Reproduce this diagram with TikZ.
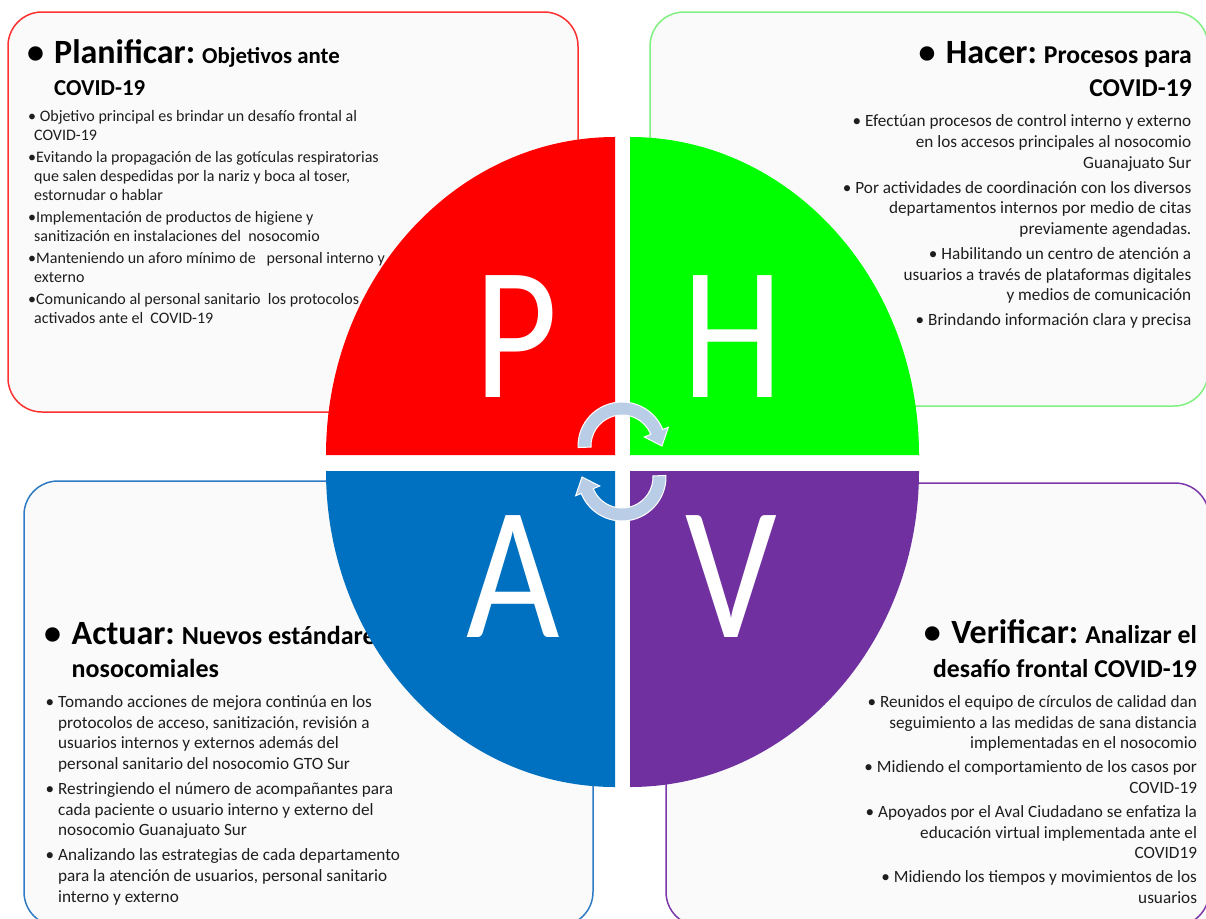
\documentclass[tikz,border=0pt]{standalone}
\usepackage{graphicx}
\usepackage{fontspec}
\setmainfont{Carlito}
\definecolor{cRed}{HTML}{FF0000}
\definecolor{cGreen}{HTML}{00FF00}
\definecolor{cBlue}{HTML}{0070C0}
\definecolor{cPurple}{HTML}{7030A0}
\definecolor{bRed}{HTML}{FF3030}
\definecolor{bGreen}{HTML}{80F080}
\definecolor{bBlue}{HTML}{2E7BC4}
\definecolor{bPurple}{HTML}{7A38AA}
\definecolor{boxfill}{HTML}{FAFAFA}
\definecolor{arrowfill}{HTML}{B9CDE6}
\definecolor{txt}{HTML}{1E1E1E}
\newcommand\LeftLines[1]{\vtop{\halign{##\hfil\cr#1\crcr}}}
\newcommand\RightLines[1]{\vtop{\halign{\hfil##\cr#1\crcr}}}
\newcommand\gap[1]{\noalign{\vskip#1pt}}
\newcommand\ind{\phantom{•\ }}
\newcommand\headbig{\fontsize{34}{40}\selectfont\bfseries}
\newcommand\headsub[1]{\fontsize{#1}{#1}\selectfont\bfseries}
\newcommand\bigletter[1]{\scalebox{0.85}[1]{#1}}
\begin{document}
\begin{tikzpicture}[x=1pt,y=-1pt,
  panel/.style={line width=1.5pt, fill=boxfill, rounded corners=34pt},
  bodyA/.style={font=\fontsize{16}{19}\selectfont, text=txt, inner sep=0pt},
  bodyB/.style={font=\fontsize{17.2}{20.7}\selectfont, text=txt, inner sep=0pt},
  head/.style={text=black, inner sep=0pt},
  letter/.style={font=\fontsize{190}{190}\selectfont, text=white, inner sep=0pt, anchor=base},
  cyc/.style={fill=arrowfill, draw=white, line width=1pt}]
\useasboundingbox (0,0) rectangle (1206,918);
\fill[white] (0,0) rectangle (1206,918);

% ---------- panels ----------
\draw[panel, draw=bRed] (8,12) rectangle (578,412);
\draw[panel, draw=bGreen] (650,12) rectangle (1208,406);
\draw[panel, draw=bBlue] (24,481) rectangle (593,926);
\draw[panel, draw=bPurple] (666,483) rectangle (1209,926);

% ---------- Planificar ----------
\node[head, anchor=base west] (pbul) at (27,63) {\headbig •};
\node[head, anchor=base west] (ptitle) at (54,63) {{\headbig Planificar:}\hspace{4pt} {\headsub{22.8}Objetivos ante}};
\node[head, anchor=base west] (ptitle2) at (54,95) {\headsub{22.8}COVID-19};
\node[bodyA, anchor=base west] (pbody) at (28,121.7) {\LeftLines{%
• Objetivo principal es brindar un desafío frontal al\cr
\kern6pt COVID-19\cr\gap{3}
•Evitando la propagación de las gotículas respiratorias\cr
\kern6pt que salen despedidas por la nariz y boca al toser,\cr
\kern6pt estornudar o hablar\cr\gap{3}
•Implementación de productos de higiene y\cr
\kern6pt sanitización en instalaciones del~ nosocomio\cr\gap{3}
•Manteniendo un aforo mínimo de~~ personal interno y\cr
\kern6pt externo\cr\gap{3}
•Comunicando al personal sanitario~ los protocolos\cr
\kern6pt activados ante el~ COVID-19\cr}};

% ---------- Hacer ----------
\node[head, anchor=base east] (htitle) at (1192,63.3) {{\headbig Hacer:}\hspace{4pt} {\headsub{25.7}Procesos para}};
\node[head, anchor=base east] (hbul) at ([xshift=-10pt]htitle.base west) {\headbig •};
\node[head, anchor=base east] (htitle2) at (1192,96.7) {\headsub{25.7}COVID-19};
\node[bodyB, anchor=base east] (hbody) at (1191.5,126.7) {\RightLines{%
• Efectúan procesos de control interno y externo\cr
en los accesos principales al nosocomio\cr
Guanajuato Sur\cr\gap{4.3}
• Por actividades de coordinación con los diversos\cr
departamentos internos por medio de citas\cr
previamente agendadas.\cr\gap{4.3}
• Habilitando un centro de atención a\cr
usuarios a través de plataformas digitales\cr
y medios de comunicación\cr\gap{4.3}
• Brindando información clara y precisa\cr}};

% ---------- Actuar ----------
\node[head, anchor=base west] (abul) at (44,644) {\headbig •};
\node[head, anchor=base west] (atitle) at (71.5,644) {{\headbig Actuar:}\hspace{4pt} {\headsub{26}Nuevos estándares}};
\node[head, anchor=base west] (atitle2) at (71.5,677.3) {\headsub{26}nosocomiales};
\node[bodyB, anchor=base west] (abody) at (45.5,707.3) {\LeftLines{%
• Tomando acciones de mejora continúa en los\cr
\ind protocolos de acceso, sanitización, revisión a\cr
\ind usuarios internos y externos además del\cr
\ind personal sanitario del nosocomio GTO Sur\cr\gap{4.3}
• Restringiendo el número de acompañantes para\cr
\ind cada paciente o usuario interno y externo del\cr
\ind nosocomio Guanajuato Sur\cr\gap{4.3}
• Analizando las estrategias de cada departamento\cr
\ind para la atención de usuarios, personal sanitario\cr
\ind interno y externo\cr}};

% ---------- Verificar ----------
\node[head, anchor=base east] (vtitle) at (1197,643.3) {{\headbig Verificar:}\hspace{4pt} {\headsub{25.7}Analizar el}};
\node[head, anchor=base east] (vbul) at ([xshift=-10pt]vtitle.base west) {\headbig •};
\node[head, anchor=base east] (vtitle2) at (1197,677.3) {\headsub{25.7}desafío frontal COVID-19};
\node[bodyB, anchor=base east] (vbody) at (1197.2,707.3) {\RightLines{%
• Reunidos el equipo de círculos de calidad dan\cr
seguimiento a las medidas de sana distancia\cr
implementadas en el nosocomio\cr\gap{3.3}
• Midiendo el comportamiento de los casos por\cr
COVID-19\cr\gap{3.3}
• Apoyados por el Aval Ciudadano se enfatiza la\cr
educación virtual implementada ante el\cr
COVID19\cr\gap{3.3}
• Midiendo los tiempos y movimientos de los\cr
usuarios\cr}};

% ---------- PHAV quarters ----------
\fill[cRed] (615,455) -- (326,455) arc[start angle=180, end angle=90, x radius=289pt, y radius=318pt] -- cycle;
\fill[cGreen] (630,455) -- (919,455) arc[start angle=0, end angle=90, x radius=289pt, y radius=318pt] -- cycle;
\fill[cBlue] (615,471) -- (326,471) arc[start angle=180, end angle=270, x radius=289pt, y radius=316pt] -- cycle;
\fill[cPurple] (630,471) -- (919,471) arc[start angle=0, end angle=-90, x radius=289pt, y radius=316pt] -- cycle;

\node[letter] (lP) at (516,397) {\bigletter{P}};
\node[letter] (lH) at (732.5,397) {\bigletter{H}};
\node[letter] (lA) at (513,637) {\bigletter{A}};
\node[letter] (lV) at (731,637) {\bigletter{V}};

% ---------- cycle arrows ----------
\begin{scope}[shift={(622,446)}, y=1pt]
  \path[cyc] (182:44) arc[start angle=182, end angle=22, radius=44pt] -- (22:50) -- (40,0) -- (22:24) -- (22:31) arc[start angle=22, end angle=182, radius=31pt] -- cycle;
\end{scope}
\begin{scope}[shift={(622,477)}, rotate=180, y=1pt]
  \path[cyc] (182:44) arc[start angle=182, end angle=22, radius=44pt] -- (22:50) -- (40,0) -- (22:24) -- (22:31) arc[start angle=22, end angle=182, radius=31pt] -- cycle;
\end{scope}
\end{tikzpicture}
\end{document}
